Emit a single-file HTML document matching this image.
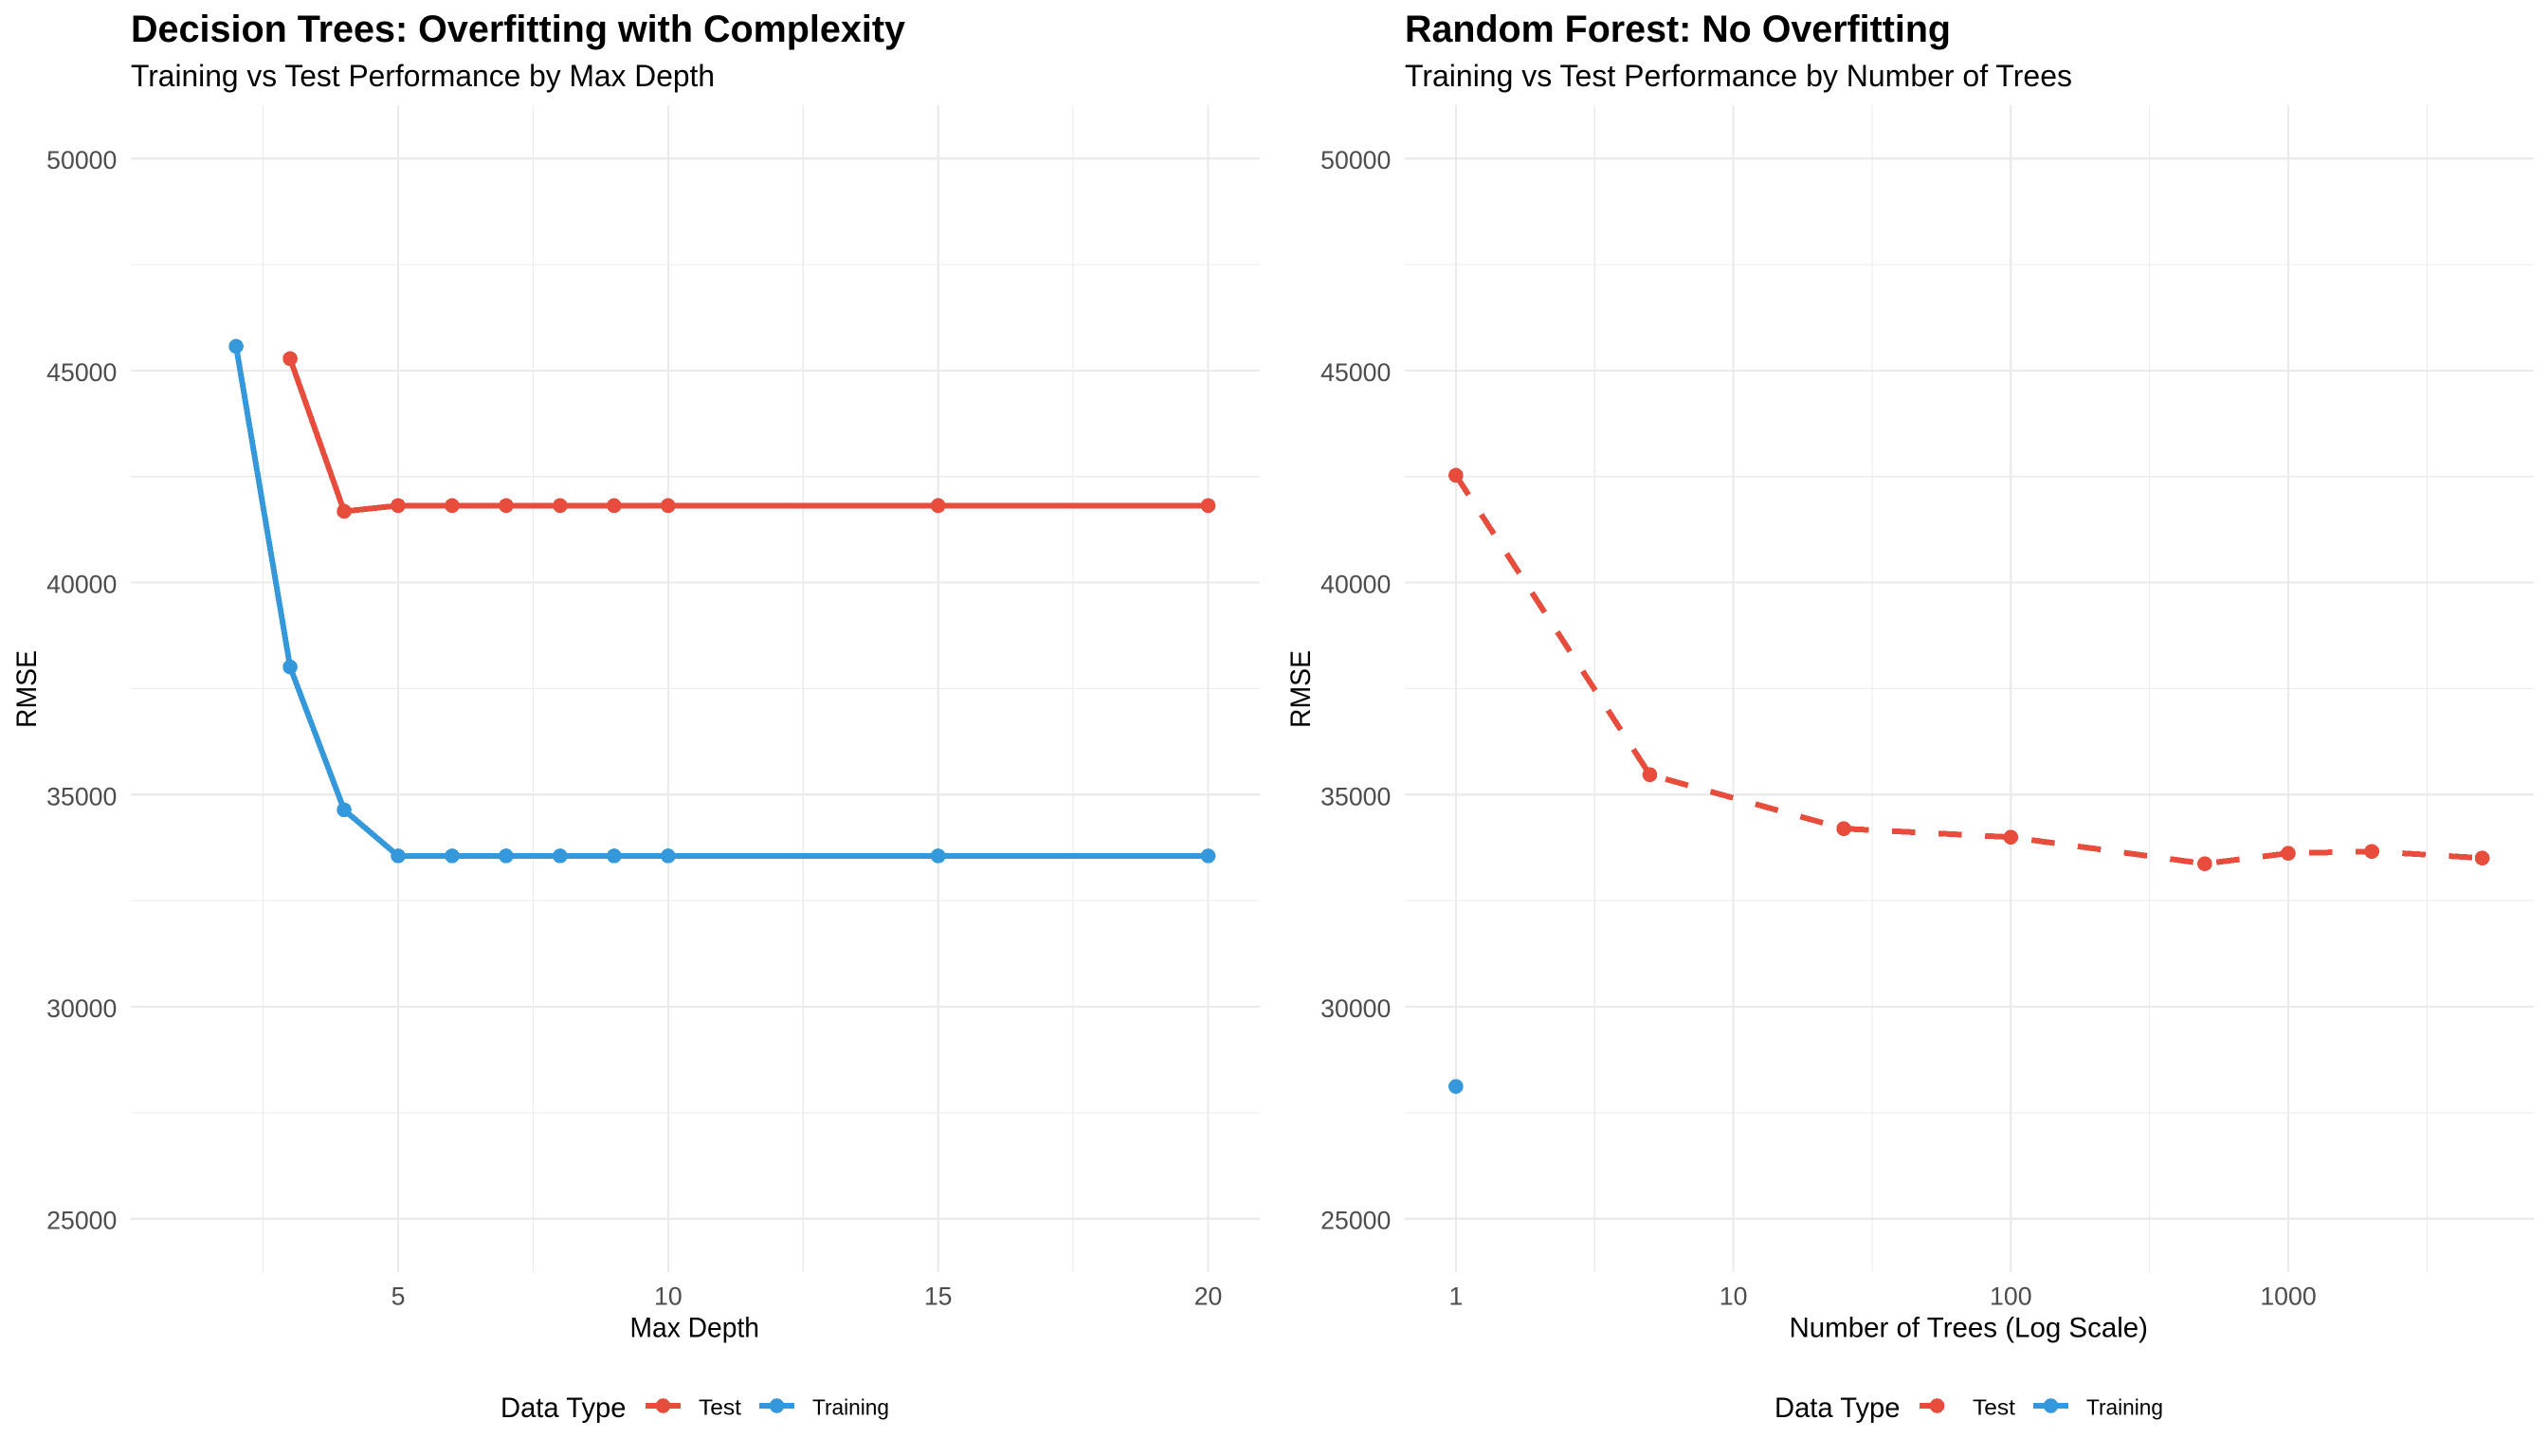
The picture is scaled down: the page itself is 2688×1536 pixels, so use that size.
<!DOCTYPE html>
<html lang="en">
<head>
<meta charset="utf-8">
<title>Decision Trees vs Random Forest RMSE</title>
<style>
html,body{margin:0;padding:0;background:#fff;}
body{width:2688px;height:1536px;overflow:hidden;}
svg{display:block;}
text{font-family:"Liberation Sans",Arial,sans-serif;}
.title{font-size:40px;font-weight:bold;fill:#000;}
.subtitle{font-size:32px;fill:#000;}
.axis-title{font-size:29.33px;fill:#000;}
.tick{font-size:26.67px;fill:#4d4d4d;}
.leg-title{font-size:29.33px;fill:#000;}
.leg-label{font-size:23.47px;fill:#000;}
.crisp{shape-rendering:crispEdges;}
</style>
</head>
<body>
<svg id="chart" xmlns="http://www.w3.org/2000/svg" width="2688" height="1536" viewBox="0 0 2688 1536">
  <rect x="0" y="0" width="2688" height="1536" fill="#ffffff"/>
  <g id="panel-dt"></g>
  <g id="panel-rf"></g>

  <text class="title" x="138" y="44" textLength="817" lengthAdjust="spacingAndGlyphs">Decision Trees: Overfitting with Complexity</text>
  <text class="subtitle" x="138" y="91" textLength="616" lengthAdjust="spacingAndGlyphs">Training vs Test Performance by Max Depth</text>
  <text class="axis-title" x="664.5" y="1410.7" textLength="136.5" lengthAdjust="spacingAndGlyphs">Max Depth</text>
  <text class="axis-title" transform="translate(38,768) rotate(-90)" textLength="82" lengthAdjust="spacingAndGlyphs">RMSE</text>

  <text class="title" x="1482" y="44" textLength="576" lengthAdjust="spacingAndGlyphs">Random Forest: No Overfitting</text>
  <text class="subtitle" x="1482" y="91" textLength="704" lengthAdjust="spacingAndGlyphs">Training vs Test Performance by Number of Trees</text>
  <text class="axis-title" x="1887.5" y="1410.7" textLength="378.5" lengthAdjust="spacingAndGlyphs">Number of Trees (Log Scale)</text>
  <text class="axis-title" transform="translate(1382,768) rotate(-90)" textLength="82" lengthAdjust="spacingAndGlyphs">RMSE</text>

  <g>
    <text class="leg-title" x="528" y="1495" textLength="132.5" lengthAdjust="spacingAndGlyphs">Data Type</text>
    <g>
      <line class="crisp" x1="681" y1="1483" x2="718" y2="1483" stroke="#E74C3C" stroke-width="6"/>
      <circle class="crisp" cx="699.5" cy="1483" r="7.8" fill="#E74C3C"/>
      <text class="leg-label" x="737" y="1492.7" textLength="45" lengthAdjust="spacingAndGlyphs">Test</text>
    </g>
    <g>
      <line class="crisp" x1="801" y1="1483" x2="838" y2="1483" stroke="#3498DB" stroke-width="6"/>
      <circle class="crisp" cx="819.5" cy="1483" r="7.8" fill="#3498DB"/>
      <text class="leg-label" x="857" y="1492.7" textLength="81" lengthAdjust="spacingAndGlyphs">Training</text>
    </g>
  </g>

  <g>
    <text class="leg-title" x="1872" y="1495" textLength="132.5" lengthAdjust="spacingAndGlyphs">Data Type</text>
    <g>
      <line class="crisp" x1="2025" y1="1483" x2="2062" y2="1483" stroke="#E74C3C" stroke-width="6" stroke-dasharray="24 24"/>
      <circle class="crisp" cx="2043.5" cy="1483" r="7.8" fill="#E74C3C"/>
      <text class="leg-label" x="2081" y="1492.7" textLength="45" lengthAdjust="spacingAndGlyphs">Test</text>
    </g>
    <g>
      <line class="crisp" x1="2145" y1="1483" x2="2182" y2="1483" stroke="#3498DB" stroke-width="6"/>
      <circle class="crisp" cx="2163.5" cy="1483" r="7.8" fill="#3498DB"/>
      <text class="leg-label" x="2201" y="1492.7" textLength="81" lengthAdjust="spacingAndGlyphs">Training</text>
    </g>
  </g>
</svg>
<script>
// ---- shared y axis ----
var yTickValues = [25000, 30000, 35000, 40000, 45000, 50000];
var yMinorValues = [27500, 32500, 37500, 42500, 47500];

// ---- decision tree panel ----
var dtXTicks = [5, 10, 15, 20];
var dtXMinor = [2.5, 7.5, 12.5, 17.5];
var dtTestDepth = [3, 4, 5, 6, 7, 8, 9, 10, 15, 20];
var dtTestRmse = [45280, 41680, 41815, 41815, 41815, 41815, 41815, 41815, 41815, 41815];
var dtTrainDepth = [2, 3, 4, 5, 6, 7, 8, 9, 10, 15, 20];
var dtTrainRmse = [45570, 38010, 34640, 33555, 33555, 33555, 33555, 33555, 33555, 33555, 33555];

// ---- random forest panel ----
var rfXTicks = [1, 10, 100, 1000];
var rfXMinor = [3.1623, 31.623, 316.23, 3162.3];
var rfTestTrees = [1, 5, 25, 100, 500, 1000, 2000, 5000];
var rfTestRmse = [42530, 35470, 34198, 33997, 33371, 33617, 33661, 33505];
var rfTrainTrees = [1];
var rfTrainRmse = [28120];

var NS = 'http://www.w3.org/2000/svg';
var RED = '#E74C3C';
var BLUE = '#3498DB';
var GRID = '#ebebeb';
var PANEL_TOP = 111;
var PANEL_BOTTOM = 1342;

function yScale(v) { return 1285.7 - (v - 25000) * 0.04474; }
function xDepth(v) { return 420 + (v - 5) * 56.97; }
function xTrees(v) { return 1535.9 + Math.log10(v) * 292.7; }

function mk(parent, tag, attrs, txt) {
  var el = document.createElementNS(NS, tag);
  for (var k in attrs) { el.setAttribute(k, attrs[k]); }
  if (txt !== undefined) { el.textContent = txt; }
  parent.appendChild(el);
  return el;
}

function drawGrid(g, left, right, xScale, xTicks, xMinor) {
  yMinorValues.forEach(function (v) {
    var el = mk(g, 'line', {x1: left, x2: right, y1: yScale(v), y2: yScale(v), stroke: GRID, 'stroke-width': 1.1, 'class': 'crisp'});
    
    
  });
  xMinor.forEach(function (v) {
    var el = mk(g, 'line', {x1: xScale(v), x2: xScale(v), y1: PANEL_TOP, y2: PANEL_BOTTOM, stroke: GRID, 'stroke-width': 1.1, 'class': 'crisp'});
    
    
  });
  yTickValues.forEach(function (v) {
    var el = mk(g, 'line', {x1: left, x2: right, y1: yScale(v), y2: yScale(v), stroke: GRID, 'stroke-width': 2.2, 'class': 'crisp'});
    
    
    var t = mk(g, 'text', {x: left - 14.7, y: yScale(v) + 11, 'text-anchor': 'end', 'class': 'tick'}, String(v));
    
    
  });
  xTicks.forEach(function (v) {
    var el = mk(g, 'line', {x1: xScale(v), x2: xScale(v), y1: PANEL_TOP, y2: PANEL_BOTTOM, stroke: GRID, 'stroke-width': 2.2, 'class': 'crisp'});
    
    
    var t = mk(g, 'text', {x: xScale(v), y: 1376.7, 'text-anchor': 'middle', 'class': 'tick'}, String(v));
    
    
  });
}

function drawSeries(g, xs, ys, xScale, color, dash, label) {
  if (xs.length > 1) {
    var pts = xs.map(function (x, i) { return xScale(x).toFixed(2) + ',' + yScale(ys[i]).toFixed(2); }).join(' ');
    var attrs = {points: pts, fill: 'none', stroke: color, 'stroke-width': 6, 'stroke-linejoin': 'round', 'class': 'crisp'};
    if (dash) { attrs['stroke-dasharray'] = dash; }
    var line = mk(g, 'polyline', attrs);
    
    
  }
  xs.forEach(function (x, i) {
    var c = mk(g, 'circle', {cx: xScale(x), cy: yScale(ys[i]), r: 7.8, fill: color, 'class': 'crisp'});
    
    
  });
}

var dt = document.getElementById('panel-dt');
drawGrid(dt, 138, 1329, xDepth, dtXTicks, dtXMinor);
drawSeries(dt, dtTestDepth, dtTestRmse, xDepth, RED, null, 'test');
drawSeries(dt, dtTrainDepth, dtTrainRmse, xDepth, BLUE, null, 'training');

var rf = document.getElementById('panel-rf');
drawGrid(rf, 1482, 2673, xTrees, rfXTicks, rfXMinor);
drawSeries(rf, rfTestTrees, rfTestRmse, xTrees, RED, '24.6 24.6', 'test');
drawSeries(rf, rfTrainTrees, rfTrainRmse, xTrees, BLUE, '24.6 24.6', 'training');
</script>
</body>
</html>
